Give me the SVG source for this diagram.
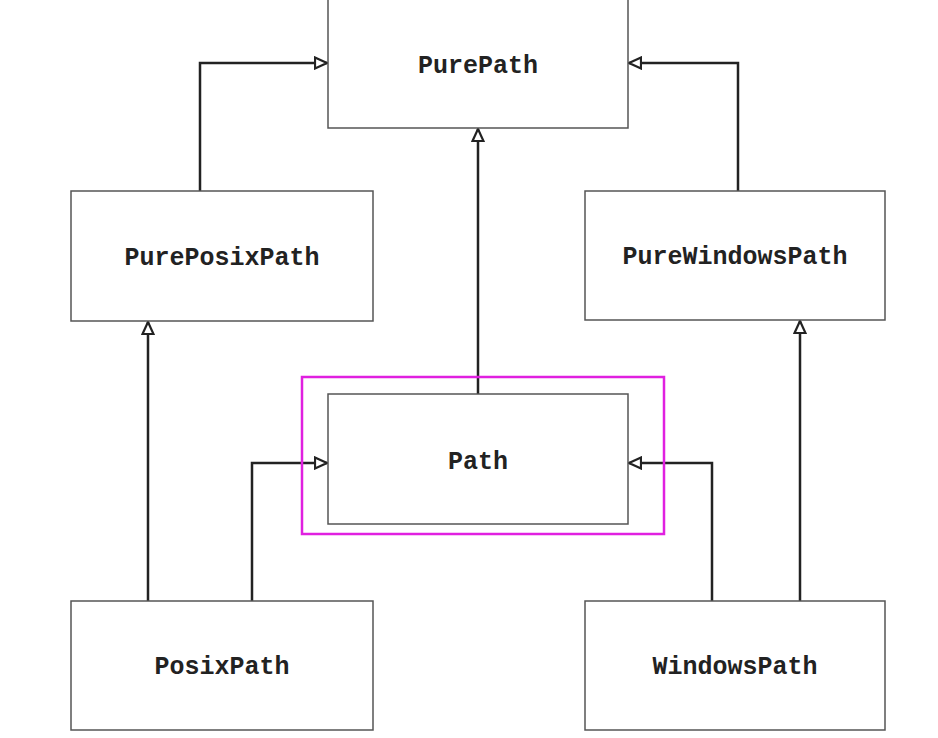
<svg xmlns="http://www.w3.org/2000/svg" width="938" height="738" viewBox="0 0 938 738">
<defs>
<style>
.box{fill:#fff;stroke:#555;stroke-width:1.5}
.lbl{font-family:"Liberation Mono",monospace;font-weight:bold;font-size:25px;fill:#222;text-anchor:middle;dominant-baseline:central}
.c{fill:none;stroke:#222;stroke-width:2.5;marker-end:url(#a)}
</style>
<marker id="a" viewBox="0 0 14 14" refX="13" refY="7" markerWidth="14" markerHeight="14" markerUnits="userSpaceOnUse" orient="auto">
<path d="M1,1.5 L13,7 L1,12.5 Z" fill="#fff" stroke="#222" stroke-width="2.2"/>
</marker>
</defs>
<rect width="938" height="738" fill="#fff"/>
<g id="connectors">
<path class="c" d="M200,191 V63 H327"/>
<path class="c" d="M738,191 V63 H629"/>
<path class="c" d="M478,394 V129"/>
<path class="c" d="M148,601 V322"/>
<path class="c" d="M252,601 V463 H327"/>
<path class="c" d="M712,601 V463 H629"/>
<path class="c" d="M800,601 V321"/>
</g>
<g id="PurePath"><rect class="box" x="328" y="-2" width="300" height="130"/><text class="lbl" x="478" y="66">PurePath</text></g>
<g id="PurePosixPath"><rect class="box" x="71" y="191" width="302" height="130"/><text class="lbl" x="222" y="258">PurePosixPath</text></g>
<g id="PureWindowsPath"><rect class="box" x="585" y="191" width="300" height="129"/><text class="lbl" x="735" y="257">PureWindowsPath</text></g>
<g id="Path"><rect x="302" y="377" width="362" height="157" fill="none" stroke="#e020e0" stroke-width="2.5"/><rect class="box" x="328" y="394" width="300" height="130"/><text class="lbl" x="478" y="462">Path</text></g>
<g id="PosixPath"><rect class="box" x="71" y="601" width="302" height="129"/><text class="lbl" x="222" y="667">PosixPath</text></g>
<g id="WindowsPath"><rect class="box" x="585" y="601" width="300" height="129"/><text class="lbl" x="735" y="667">WindowsPath</text></g>
</svg>
